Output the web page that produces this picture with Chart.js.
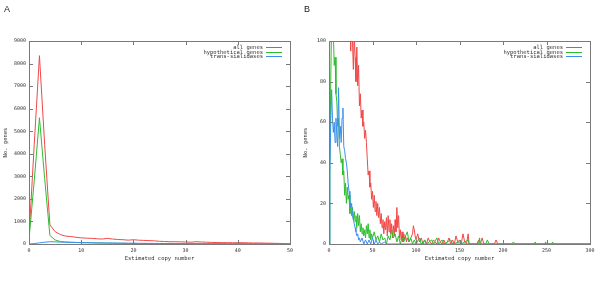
<!DOCTYPE html>
<html>
<head>
<meta charset="utf-8">
<script src="https://cdn.jsdelivr.net/npm/chart.js@4/dist/chart.umd.min.js"></script>
<style>
html,body{margin:0;padding:0;background:#fff;}
#wrap{position:relative;width:600px;height:285px;overflow:hidden;}
.panel{position:absolute;top:0;width:300px;height:285px;}
.tag{position:absolute;top:4px;font:9px "Liberation Sans",Arial,sans-serif;color:#222;}
</style>
</head>
<body>
<div id="wrap">
  <div class="panel" style="left:0"><canvas id="cA" width="300" height="285"></canvas></div>
  <div class="panel" style="left:300px"><canvas id="cB" width="300" height="285"></canvas></div>
  <div class="tag" style="left:4px">A</div>
  <div class="tag" style="left:304px">B</div>
</div>
<script>
// ---------- DATA ----------
const seriesNames = ["all genes", "hypothetical genes", "trans-sialidases"];
const xTitle = "Estimated copy number";
const yTitle = "No. genes";

// Panel A (copy number 0..50)
const xA = [0,1,2,3,4,5,6,7,8,9,10,11,12,13,14,15,16,17,18,19,20,21,22,23,24,25,26,27,28,29,30,31,32,33,34,35,36,37,38,39,40,41,42,43,44,45,46,47,48,49,50];
const allA = [300,4400,8350,4400,850,550,420,350,330,300,270,260,250,230,220,250,220,200,190,170,190,170,160,150,140,120,110,100,100,95,90,80,100,90,80,70,65,60,60,55,60,55,50,45,45,40,35,30,25,15,0];
const hypA = [200,2800,5600,2900,380,180,110,90,80,70,60,55,50,45,40,40,35,30,28,25,22,20,20,18,18,15,15,14,12,12,10,10,10,9,9,8,8,7,7,6,6,6,5,5,5,4,4,3,3,2,0];
const tsA  = [0,20,50,80,100,95,85,75,70,65,60,60,55,50,50,45,45,40,40,35,35,30,30,28,26,24,22,20,18,16,15,14,13,12,11,10,10,9,9,8,8,7,7,6,6,5,5,4,3,2,0];

// Panel B (copy number 0..300, y zoomed to 0..100)
const xAllB = [0,2,10,20,24,25,26,27,28,29,30,31,32,33,34,35,36,37,38,39,40,41,42,43,44,45,46,47,48,49,50,51,52,53,54,55,56,57,58,59,60,61,62,63,64,65,66,67,68,69,70,71,72,73,74,75,76,77,78,79,80,81,82,83,84,85,86,87,88,89,90,92,94,96,97,98,99,100,102,104,106,108,110,112,114,116,118,120,122,124,126,128,130,132,134,136,138,140,142,144,146,148,150,152,154,156,158,160,161,170,172,174,176,178,190,192,194,300];
const allB  = [0,300,250,160,110,95,118,100,86,104,92,80,97,78,88,68,74,62,66,58,60,52,56,50,42,34,36,28,30,22,26,18,24,16,21,14,20,13,18,10,15,8,12,5,11,7,13,4,14,6,12,5,10,3,9,4,12,6,18,8,14,3,7,2,6,1,5,2,4,1,3,1,3,5,9,7,4,2,5,1,3,0,2,0,3,1,0,2,1,0,3,1,0,2,0,1,3,0,2,0,4,1,2,0,5,1,0,5,0,0,2,0,3,0,0,2,0,0];
const xHypB = [0,1,2,3,4,5,6,7,8,9,10,11,12,13,14,15,16,17,18,19,20,21,22,23,24,25,26,27,28,29,30,31,32,33,34,35,36,37,38,39,40,41,42,43,44,45,46,47,48,49,50,52,54,56,58,60,62,64,66,68,70,72,74,76,78,80,82,84,86,88,90,92,94,96,98,100,104,106,110,112,118,120,124,126,130,132,140,142,150,152,160,161,172,173,174,180,182,184,210,212,214,236,237,238,248,249,250,256,257,258,300];
const hypB  = [0,40,80,110,130,104,88,92,74,70,58,62,48,44,40,42,34,36,24,30,20,28,22,24,15,20,14,18,12,16,11,14,8,15,9,14,6,10,5,8,4,7,3,9,5,10,3,7,2,5,3,6,2,4,1,5,2,3,0,4,2,7,3,5,1,4,0,3,1,4,6,1,3,0,2,0,3,0,2,0,2,0,3,0,2,0,2,0,1,0,2,0,0,3,0,0,2,0,0,1,0,0,1,0,0,1,0,0,1,0,0];
const xTsB  = [0,1,2,3,4,5,6,7,8,9,10,11,12,13,14,15,16,17,18,19,20,21,22,23,24,25,26,27,28,29,30,31,32,33,34,35,36,38,40,42,44,46,48,50,52,54,56,58,60,64,66,300];
const tsB   = [0,35,60,76,62,55,60,50,62,54,48,77,52,58,50,62,67,48,46,42,40,36,30,26,22,18,20,14,12,10,8,6,4,5,2,3,1,3,0,2,0,2,0,3,0,2,0,1,0,1,0,0];

// Axis ranges / tick steps
const rangeA = {xMax: 50, xStep: 10, yMax: 9000, yStep: 1000};
const rangeB = {xMax: 300, xStep: 50, yMax: 100, yStep: 20};

// ---------- STYLE ----------
const colors = ["#f04848", "#2ebd2e", "#3a8ff0"];
const axisColor = "#7a7a7a";
const textColor = "#333";
const mono = '"DejaVu Sans Mono", "Liberation Mono", monospace';

const pts = (xs, ys) => xs.map((x, i) => ({x: x, y: ys[i]}));

const framePlugin = {
  id: 'frame',
  afterDatasetsDraw(chart) {
    const {ctx, chartArea: a, scales} = chart;
    ctx.save();
    ctx.strokeStyle = axisColor;
    ctx.lineWidth = 1;
    ctx.strokeRect(Math.round(a.left) + 0.5, Math.round(a.top) + 0.5,
                   Math.round(a.right - a.left), Math.round(a.bottom - a.top));
    const L = 4;
    ctx.beginPath();
    scales.x.ticks.forEach(t => {
      const p = Math.round(scales.x.getPixelForValue(t.value)) + 0.5;
      ctx.moveTo(p, a.bottom); ctx.lineTo(p, a.bottom - L);
      ctx.moveTo(p, a.top); ctx.lineTo(p, a.top + L);
    });
    scales.y.ticks.forEach(t => {
      const p = Math.round(scales.y.getPixelForValue(t.value)) + 0.5;
      ctx.moveTo(a.left, p); ctx.lineTo(a.left + L, p);
      ctx.moveTo(a.right, p); ctx.lineTo(a.right - L, p);
    });
    ctx.stroke();
    // legend
    ctx.font = '5.5px ' + mono;
    ctx.textAlign = 'right';
    ctx.textBaseline = 'middle';
    chart.data.datasets.forEach((ds, i) => {
      const y = Math.round(a.top + 6 + i * 4.6) + 0.5;
      ctx.fillStyle = textColor;
      ctx.fillText(ds.label, a.right - 27, y);
      ctx.strokeStyle = ds.borderColor;
      ctx.beginPath();
      ctx.moveTo(a.right - 24, y); ctx.lineTo(a.right - 8, y);
      ctx.stroke();
    });
    ctx.restore();
  }
};

function makeChart(id, range, sets) {
  return new Chart(document.getElementById(id), {
    type: 'line',
    data: {
      datasets: sets.map((s, i) => ({
        label: seriesNames[i],
        data: s,
        borderColor: colors[i],
        backgroundColor: colors[i],
        borderWidth: 1,
        pointRadius: 0,
        tension: 0,
        fill: false,
        order: 3 - i
      }))
    },
    options: {
      responsive: false,
      devicePixelRatio: 1,
      animation: false,
      events: [],
      layout: {padding: {left: 0, top: 41, right: 10, bottom: 0}},
      plugins: {legend: {display: false}, tooltip: {enabled: false}},
      scales: {
        x: {
          type: 'linear', min: 0, max: range.xMax,
          afterFit: s => { s.height = 41; },
          grid: {display: false, drawTicks: false},
          border: {display: false},
          ticks: {stepSize: range.xStep, maxRotation: 0, padding: 4, color: textColor,
                  font: {family: mono, size: 5}, callback: v => String(v)},
          title: {display: true, text: xTitle, color: textColor,
                  font: {family: mono, size: 5.5}, padding: {top: 0, bottom: 23}}
        },
        y: {
          type: 'linear', min: 0, max: range.yMax,
          afterFit: s => { s.width = 29; },
          grid: {display: false, drawTicks: false},
          border: {display: false},
          ticks: {stepSize: range.yStep, padding: 3, color: textColor,
                  font: {family: mono, size: 5}, callback: v => String(v)},
          title: {display: true, text: yTitle, color: textColor,
                  font: {family: mono, size: 5.5}, padding: {top: 2, bottom: 0}}
        }
      }
    },
    plugins: [framePlugin]
  });
}

makeChart('cA', rangeA, [pts(xA, allA), pts(xA, hypA), pts(xA, tsA)]);
makeChart('cB', rangeB, [pts(xAllB, allB), pts(xHypB, hypB), pts(xTsB, tsB)]);
</script>
</body>
</html>
